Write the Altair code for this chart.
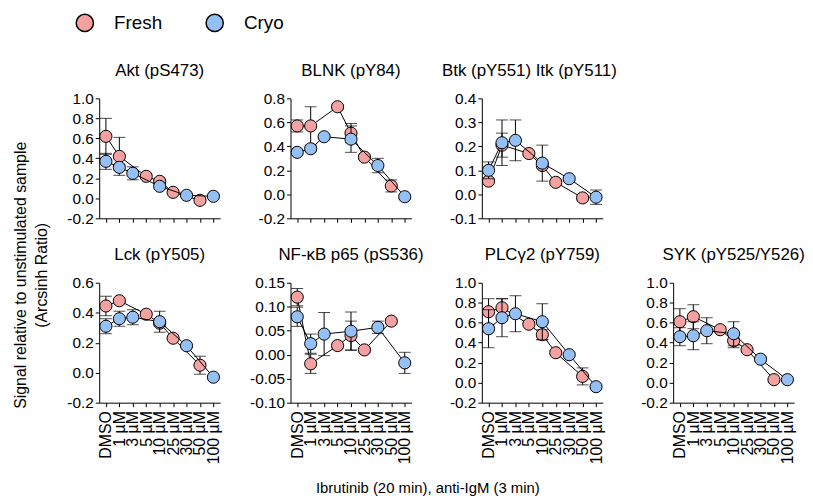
import altair as alt
import pandas as pd

doses = ["DMSO", "1 µM", "3 µM", "5 µM", "10 µM", "25 µM", "30 µM", "50 µM", "100 µM"]
fresh_doses = ["DMSO", "1 µM", "5 µM", "10 µM", "25 µM", "50 µM"]
cryo_doses = ["DMSO", "1 µM", "3 µM", "10 µM", "30 µM", "100 µM"]
series_names = ["Fresh", "Cryo"]
series_colors = ["#F5A1A1", "#94C0F5"]

panel_titles = ["Akt (pS473)", "BLNK (pY84)", "Btk (pY551) Itk (pY511)",
                "Lck (pY505)", "NF-κB p65 (pS536)", "PLCγ2 (pY759)", "SYK (pY525/Y526)"]

akt_fresh = [0.62, 0.42, 0.22, 0.17, 0.06, -0.02]
akt_fresh_err = [0.18, 0.19, 0.02, 0.02, 0.02, 0.02]
akt_cryo = [0.37, 0.31, 0.25, 0.12, 0.03, 0.02]
akt_cryo_err = [0.08, 0.03, 0.065, 0.03, 0.01, 0.01]

blnk_fresh = [0.57, 0.57, 0.73, 0.51, 0.31, 0.07]
blnk_fresh_err = [0.05, 0.16, 0.02, 0.08, 0.02, 0.05]
blnk_cryo = [0.35, 0.38, 0.48, 0.46, 0.24, -0.02]
blnk_cryo_err = [0.02, 0.02, 0.02, 0.11, 0.06, 0.02]

btk_fresh = [0.055, 0.205, 0.17, 0.12, 0.05, -0.015]
btk_fresh_err = [0.005, 0.05, 0.01, 0.01, 0.01, 0.01]
btk_cryo = [0.10, 0.215, 0.225, 0.13, 0.065, -0.012]
btk_cryo_err = [0.035, 0.095, 0.085, 0.075, 0.01, 0.03]

lck_fresh = [0.445, 0.48, 0.39, 0.33, 0.23, 0.05]
lck_fresh_err = [0.065, 0.01, 0.01, 0.02, 0.01, 0.06]
lck_cryo = [0.31, 0.36, 0.37, 0.34, 0.18, -0.03]
lck_cryo_err = [0.05, 0.05, 0.05, 0.07, 0.01, 0.01]

nfkb_fresh = [0.12, -0.019, 0.019, 0.04, 0.01, 0.07]
nfkb_fresh_err = [0.018, 0.02, 0.005, 0.03, 0.005, 0.005]
nfkb_cryo = [0.079, 0.023, 0.043, 0.049, 0.057, -0.017]
nfkb_cryo_err = [0.02, 0.02, 0.045, 0.04, 0.013, 0.022]

plcg2_fresh = [0.71, 0.75, 0.585, 0.48, 0.30, 0.063]
plcg2_fresh_err = [0.13, 0.09, 0.02, 0.05, 0.02, 0.085]
plcg2_cryo = [0.54, 0.65, 0.69, 0.61, 0.28, -0.04]
plcg2_cryo_err = [0.19, 0.19, 0.18, 0.18, 0.02, 0.01]

syk_fresh = [0.61, 0.66, 0.53, 0.42, 0.33, 0.03]
syk_fresh_err = [0.13, 0.12, 0.02, 0.07, 0.02, 0.01]
syk_cryo = [0.46, 0.47, 0.52, 0.49, 0.235, 0.03]
syk_cryo_err = [0.09, 0.14, 0.13, 0.12, 0.02, 0.01]

y_domains = [[-0.2, 1.0], [-0.2, 0.8], [-0.1, 0.4], [-0.2, 0.6], [-0.10, 0.15], [-0.2, 1.0], [-0.2, 1.0]]
y_ticks = [
    [-0.2, 0.0, 0.2, 0.4, 0.6, 0.8, 1.0],
    [-0.2, 0.0, 0.2, 0.4, 0.6, 0.8],
    [-0.1, 0.0, 0.1, 0.2, 0.3, 0.4],
    [-0.2, 0.0, 0.2, 0.4, 0.6],
    [-0.10, -0.05, 0.0, 0.05, 0.10, 0.15],
    [-0.2, 0.0, 0.2, 0.4, 0.6, 0.8, 1.0],
    [-0.2, 0.0, 0.2, 0.4, 0.6, 0.8, 1.0],
]
y_formats = [".1f", ".1f", ".1f", ".1f", ".2f", ".1f", ".1f"]
title_dx = [0, 0, -13, 0, 0, 0, 0]

y_title_lines = ["Signal relative to unstimulated sample", "(Arcsinh Ratio)"]
x_title_text = "Ibrutinib (20 min), anti-IgM  (3 min)"

FONT = "Liberation Sans"
W, H = 122, 121

legend = alt.Legend(
    title=None, orient="none", legendX=-24, legendY=-86, direction="horizontal",
    symbolType="circle", symbolSize=300, symbolStrokeColor="black", symbolStrokeWidth=1.5,
    labelFontSize=19, labelFont=FONT, labelColor="black", labelOffset=20,
    columnPadding=40, padding=0,
)


def make_panel(i, fresh, fresh_err, cryo, cryo_err, bottom, y_title=None, x_title=None):
    rows = []
    for d, v, e in zip(fresh_doses, fresh, fresh_err):
        rows.append({"dose": d, "series": "Fresh", "value": v, "lo": v - e, "hi": v + e, "idx": doses.index(d)})
    for d, v, e in zip(cryo_doses, cryo, cryo_err):
        rows.append({"dose": d, "series": "Cryo", "value": v, "lo": v - e, "hi": v + e, "idx": doses.index(d)})
    df = pd.DataFrame(rows)

    xa = dict(labels=bottom, ticks=True, labelAngle=-90, title=None, labelFontSize=16, labelPadding=4)
    if x_title:
        xa.update(title=x_title, titleX=138, titleY=86, titleAlign="center", titleBaseline="middle",
                  titleAngle=0, titleFontSize=15)
    X = alt.X("dose:N", scale=alt.Scale(type="point", domain=doses, padding=0.5), axis=alt.Axis(**xa))

    fmt = y_formats[i]
    ya = dict(values=y_ticks[i], labelExpr="replace(format(datum.value, '%s'), '\u2212', '-')" % fmt, title=None)
    if y_title:
        ya.update(title=y_title, titleX=-79, titleY=178, titleAngle=-90, titleAlign="center",
                  titleBaseline="middle", titleFontSize=16, titleLineHeight=21)
    yscale = alt.Scale(domain=y_domains[i], nice=False, zero=False)
    Yv = alt.Y("value:Q", scale=yscale, axis=alt.Axis(**ya))
    Ylo = alt.Y("lo:Q", scale=yscale, axis=alt.Axis(**ya))
    Yhi = alt.Y("hi:Q", scale=yscale, axis=alt.Axis(**ya))

    fill = alt.Fill("series:N", scale=alt.Scale(domain=series_names, range=series_colors), legend=legend)

    base = alt.Chart(df)
    layers = []
    for s in series_names:
        b = base.transform_filter(alt.datum.series == s)
        layers.append(b.mark_rule(color="black", strokeWidth=1).encode(x=X, y=Ylo, y2="hi:Q"))
        layers.append(b.mark_tick(color="black", size=12, thickness=1).encode(x=X, y=Ylo))
        layers.append(b.mark_tick(color="black", size=12, thickness=1).encode(x=X, y=Yhi))
        layers.append(b.mark_line(color="black", strokeWidth=1).encode(x=X, y=Yv, order="idx:Q"))
        layers.append(b.mark_point(filled=True, size=150, stroke="black", strokeWidth=1, opacity=1)
                      .encode(x=X, y=Yv, fill=fill))
    if title_dx[i]:
        t = alt.TitleParams(panel_titles[i], dx=title_dx[i])
    else:
        t = panel_titles[i]
    return alt.layer(*layers).properties(width=W, height=H, title=t)


data_sets = [
    (akt_fresh, akt_fresh_err, akt_cryo, akt_cryo_err),
    (blnk_fresh, blnk_fresh_err, blnk_cryo, blnk_cryo_err),
    (btk_fresh, btk_fresh_err, btk_cryo, btk_cryo_err),
    (lck_fresh, lck_fresh_err, lck_cryo, lck_cryo_err),
    (nfkb_fresh, nfkb_fresh_err, nfkb_cryo, nfkb_cryo_err),
    (plcg2_fresh, plcg2_fresh_err, plcg2_cryo, plcg2_cryo_err),
    (syk_fresh, syk_fresh_err, syk_cryo, syk_cryo_err),
]

panels = []
for i, (f, fe, c, ce) in enumerate(data_sets):
    bottom = i >= 3
    panels.append(make_panel(i, f, fe, c, ce, bottom,
                             y_title=y_title_lines if i == 0 else None,
                             x_title=x_title_text if i == 4 else None))

placeholder = alt.Chart(pd.DataFrame({"a": [0]})).mark_point(opacity=0).encode(
    x=alt.X("a:Q", axis=None), y=alt.Y("a:Q", axis=None)
).properties(width=W, height=H)

cells = panels[:3] + [placeholder] + panels[3:]

chart = alt.concat(*cells, columns=4, spacing={"row": 65, "column": 71}, bounds="flush", align="all").properties(
    padding={"left": 5, "top": 3, "right": 0, "bottom": 0}
).resolve_scale(fill="shared").configure_view(stroke=None).configure_axis(
    labelFont=FONT, labelFontSize=15.5, labelColor="black", domainColor="black", tickColor="black",
    tickSize=4, labelPadding=2, grid=False, titleFont=FONT, titleColor="black", titleFontWeight="normal",
    domainWidth=1, tickWidth=1,
).configure_title(font=FONT, fontSize=17, fontWeight="normal", color="black", offset=12, anchor="middle")

chart.save("out.html", embed_options={"renderer": "svg", "actions": False})
